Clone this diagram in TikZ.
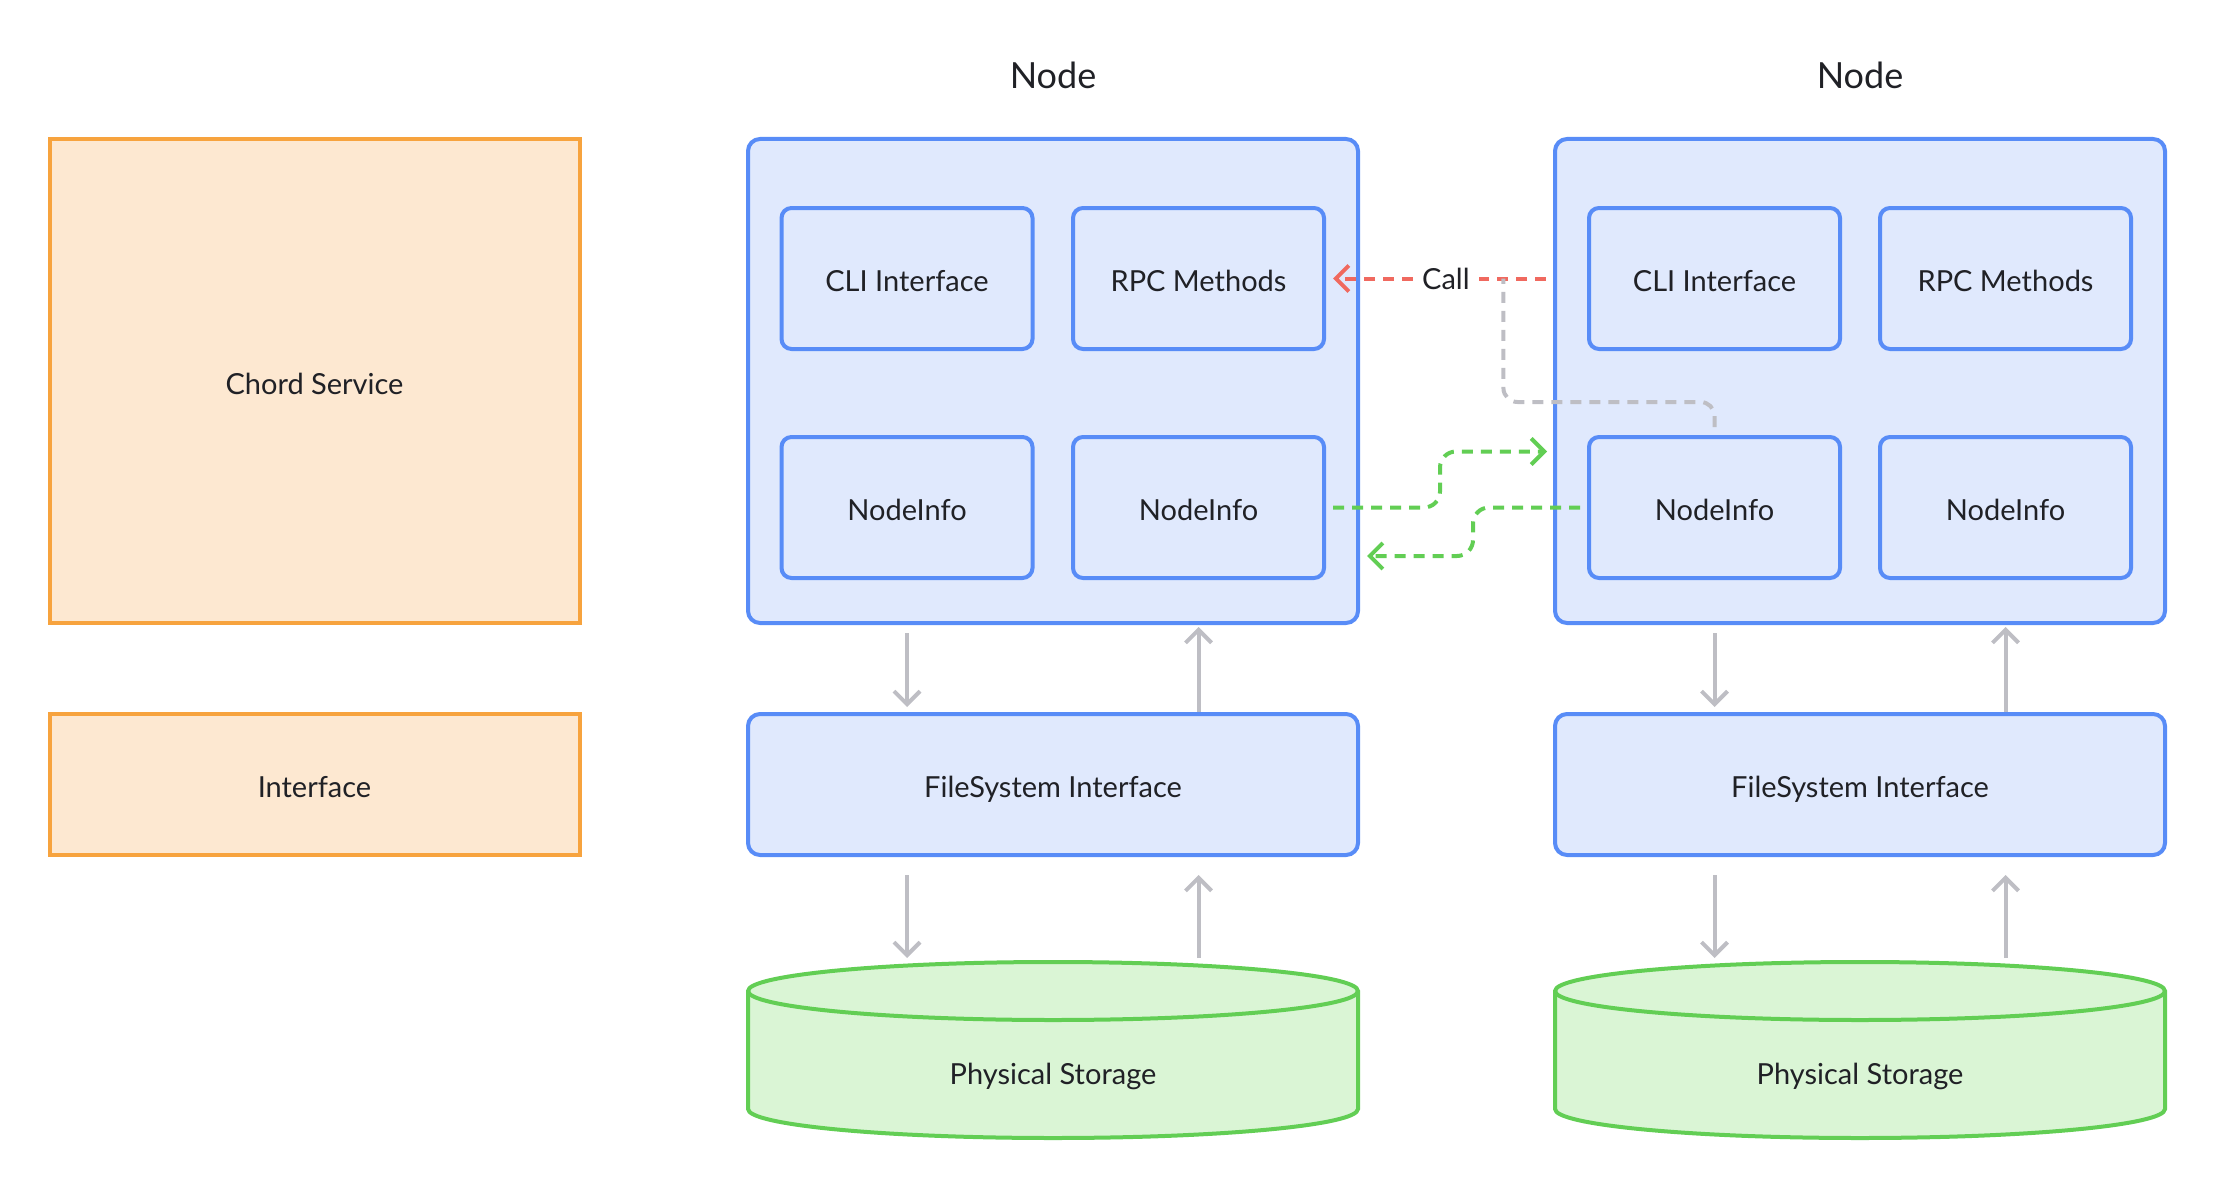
\documentclass[tikz,border=0pt]{standalone}
\usepackage{fontspec}
\setmainfont{Lato}
\usepackage{tikz}
\usetikzlibrary{arrows.meta,positioning}
\usetikzlibrary{calc}
\usepackage{xcolor}

\definecolor{blueline}{RGB}{88,140,247}
\definecolor{bluefill}{RGB}{224,233,253}
\definecolor{orangeline}{RGB}{247,163,62}
\definecolor{orangefill}{RGB}{253,232,209}
\definecolor{greenline}{RGB}{98,206,84}
\definecolor{greenfill}{RGB}{218,245,213}
\definecolor{callred}{RGB}{240,105,95}
\definecolor{flowgray}{RGB}{190,190,196}
\definecolor{ink}{RGB}{32,33,38}

\begin{document}
\begin{tikzpicture}[
  x=1pt, y=1pt,
  boxtext/.style={font=\fontsize{29}{34}\selectfont, text=ink, text height=31pt, text depth=5pt},
  legend/.style={boxtext, draw=orangeline, fill=orangefill, line width=4pt, minimum width=530pt},
  container/.style={draw=blueline, fill=bluefill, line width=4pt, rounded corners=12pt, minimum width=610pt, minimum height=484pt},
  part/.style={boxtext, draw=blueline, fill=bluefill, line width=4pt, rounded corners=10pt, minimum width=251pt, minimum height=141pt},
  fsbox/.style={boxtext, draw=blueline, fill=bluefill, line width=4pt, rounded corners=12pt, minimum width=610pt, minimum height=141pt},
  title/.style={font=\fontsize{36}{42}\selectfont, text=ink},
  dbshape/.style={draw=greenline, fill=greenfill, line width=4pt},
  flow/.style={draw=flowgray, line width=4pt, -{Straight Barb[length=13pt,width=26pt]}},
  call/.style={draw=callred, line width=4pt, dash pattern=on 11pt off 8pt, -{Straight Barb[length=13pt,width=26pt]}},
  calltext/.style={font=\fontsize{29}{34}\selectfont, text=ink, fill=white, inner sep=9pt},
  link/.style={draw=flowgray, line width=4pt, dash pattern=on 11pt off 8pt, rounded corners=14pt},
  sync/.style={draw=greenline, line width=4pt, dash pattern=on 11pt off 8pt, rounded corners=16pt, -{Straight Barb[length=13pt,width=26pt]}}
]
\useasboundingbox (0,0) rectangle (2216,-1188);

% ==================
% Legend
% ==================
\node[legend, minimum height=484pt] (chord) at (314.5,-381) {Chord Service};
\node[legend, minimum height=141pt] (iface) at (314.5,-784.5) {Interface};

% ==================
% Left node
% ==================
\node[title] (titleA) at (1053,-75) {Node};
\node[container] (boxA) at (1053,-381) {};
\node[part] (cliA) at (907,-278.5) {CLI Interface};
\node[part] (rpcA) at (1198.5,-278.5) {RPC Methods};
\node[part] (infoA1) at (907,-507.5) {NodeInfo};
\node[part] (infoA2) at (1198.5,-507.5) {NodeInfo};
\node[fsbox] (fsA) at (1053,-784.5) {FileSystem Interface};

% storage
\path[dbshape] (748,-991) -- (748,-1109) arc[start angle=180,end angle=360,x radius=305,y radius=29]
  -- (1358,-991) arc[start angle=0,end angle=180,x radius=305,y radius=29] -- cycle;
\draw[dbshape, fill=none] (748,-991) arc[start angle=180,end angle=360,x radius=305,y radius=29];
\node[boxtext] (dbA) at (1053,-1071) {Physical Storage};
\coordinate (dbAtop) at (1053,-962);

% ==================
% Right node
% ==================
\node[title] (titleB) at (1860,-75) {Node};
\node[container] (boxB) at (1860,-381) {};
\node[part] (cliB) at (1714.5,-278.5) {CLI Interface};
\node[part] (rpcB) at (2005.5,-278.5) {RPC Methods};
\node[part] (infoB1) at (1714.5,-507.5) {NodeInfo};
\node[part] (infoB2) at (2005.5,-507.5) {NodeInfo};
\node[fsbox] (fsB) at (1860,-784.5) {FileSystem Interface};

% storage
\path[dbshape] (1555,-991) -- (1555,-1109) arc[start angle=180,end angle=360,x radius=305,y radius=29]
  -- (2165,-991) arc[start angle=0,end angle=180,x radius=305,y radius=29] -- cycle;
\draw[dbshape, fill=none] (1555,-991) arc[start angle=180,end angle=360,x radius=305,y radius=29];
\node[boxtext] (dbB) at (1860,-1071) {Physical Storage};
\coordinate (dbBtop) at (1860,-962);

% ==================
% Vertical flows
% ==================
\draw[flow] ($(boxA.south -| cliA)+(0,-8)$) -- ($(fsA.north -| cliA)+(0,5)$);
\draw[flow] (fsA.north -| rpcA) -- ($(boxA.south -| rpcA)+(0,-2)$);
\draw[flow] ($(fsA.south -| cliA)+(0,-18)$) -- ($(dbAtop -| cliA)+(0,4)$);
\draw[flow] ($(dbAtop -| rpcA)+(0,4)$) -- ($(fsA.south -| rpcA)+(0,-18)$);

\draw[flow] ($(boxB.south -| cliB)+(0,-8)$) -- ($(fsB.north -| cliB)+(0,5)$);
\draw[flow] (fsB.north -| rpcB) -- ($(boxB.south -| rpcB)+(0,-2)$);
\draw[flow] ($(fsB.south -| cliB)+(0,-18)$) -- ($(dbBtop -| cliB)+(0,4)$);
\draw[flow] ($(dbBtop -| rpcB)+(0,4)$) -- ($(fsB.south -| rpcB)+(0,-18)$);

% ==================
% Between nodes
% ==================
\draw[call] ($(cliB.west -| boxB.west)+(-7,0)$) -- coordinate[pos=0.2] (callJoin)
  node[calltext, pos=0.47] (callLabel) {Call} ($(rpcA.east)+(7,0)$);
\draw[link] ($(infoB1.north)+(0,8)$) -- ++(0,25) -| (callJoin);

\draw[sync] ($(infoA2.east)+(7,0)$) -- ++(107,0) |- ($(infoA2.east -| boxB.west)+(-6,56)$);
\draw[sync] ($(infoB1.west)+(-7,0)$) -- ++(-107,0) |- ($(infoB1.west -| boxA.east)+(7,-48.5)$);
\end{tikzpicture}
\end{document}
